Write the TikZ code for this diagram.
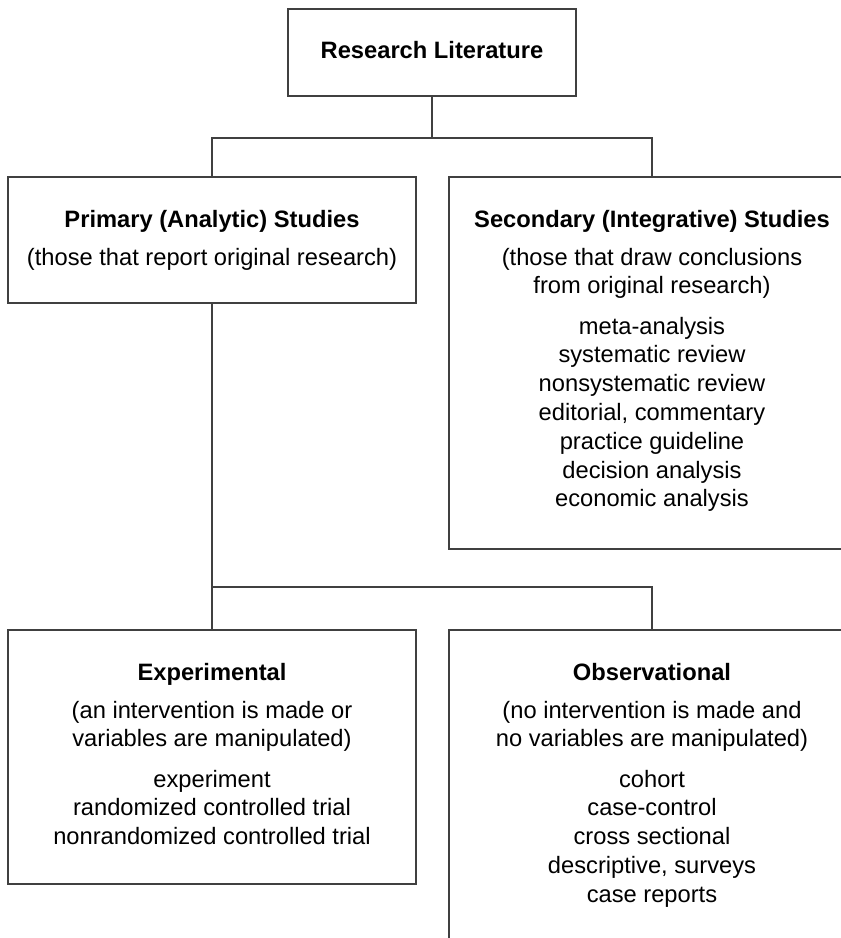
\documentclass[tikz,border=0pt]{standalone}
\usepackage{fontspec}
\setmainfont{Liberation Sans}
\begin{document}
\begin{tikzpicture}[x=1pt,y=-1pt,
  box/.style={draw=black!75, line width=1.6pt, inner sep=0pt, outer sep=0pt, fill=none},
  link/.style={draw=black!75, line width=1.6pt},
  txt/.style={anchor=base, inner sep=0pt, font=\fontsize{23.7}{28.8}\selectfont},
  ttl/.style={anchor=base, inner sep=0pt, font=\fontsize{23.7}{28.8}\selectfont\bfseries}]
\useasboundingbox (0,0) rectangle (841,938);
\clip (0,0) rectangle (841,938);

% boxes
\node[box, minimum width=288, minimum height=87]  (lit) at (432,52.5) {};
\node[box, minimum width=408, minimum height=126] (prim) at (212,240) {};
\node[box, minimum width=406, minimum height=372] (sec) at (652,363) {};
\node[box, minimum width=408, minimum height=254] (exp) at (212,757) {};
\node[box, minimum width=406, minimum height=400] (obs) at (652,830) {};

% junctions
\coordinate (j1) at (432,138);
\coordinate (j2) at (212,587);

% connectors
\draw[link] (lit.south) -- (j1);
\draw[link] (prim.north) |- (j1) -| (sec.north);
\draw[link] (prim.south) -- (exp.north);
\draw[link] (j2) -| (obs.north);

% top
\node[ttl] (litT) at (432,58) {Research Literature};

% primary
\node[ttl] (primT) at (212,227) {Primary (Analytic) Studies};
\node[txt] (primA) at (212,265) {(those that report original research)};

% secondary
\node[ttl] (secT) at (652,227) {Secondary (Integrative) Studies};
\node[txt] (secA) at (652,265) {(those that draw conclusions};
\node[txt] (secB) at (652,293) {from original research)};
\node[txt] (sec1) at (652,334) {meta-analysis};
\node[txt] (sec2) at (652,362.8) {systematic review};
\node[txt] (sec3) at (652,391.6) {nonsystematic review};
\node[txt] (sec4) at (652,420.4) {editorial, commentary};
\node[txt] (sec5) at (652,449.2) {practice guideline};
\node[txt] (sec6) at (652,478) {decision analysis};
\node[txt] (sec7) at (652,506.8) {economic analysis};

% experimental
\node[ttl] (expT) at (212,680) {Experimental};
\node[txt] (expA) at (212,718) {(an intervention is made or};
\node[txt] (expB) at (212,746) {variables are manipulated)};
\node[txt] (exp1) at (212,787) {experiment};
\node[txt] (exp2) at (212,815.8) {randomized controlled trial};
\node[txt] (exp3) at (212,844.6) {nonrandomized controlled trial};

% observational
\node[ttl] (obsT) at (652,680) {Observational};
\node[txt] (obsA) at (652,718) {(no intervention is made and};
\node[txt] (obsB) at (652,746) {no variables are manipulated)};
\node[txt] (obs1) at (652,787) {cohort};
\node[txt] (obs2) at (652,815.8) {case-control};
\node[txt] (obs3) at (652,844.6) {cross sectional};
\node[txt] (obs4) at (652,873.4) {descriptive, surveys};
\node[txt] (obs5) at (652,902.2) {case reports};
\end{tikzpicture}
\end{document}
